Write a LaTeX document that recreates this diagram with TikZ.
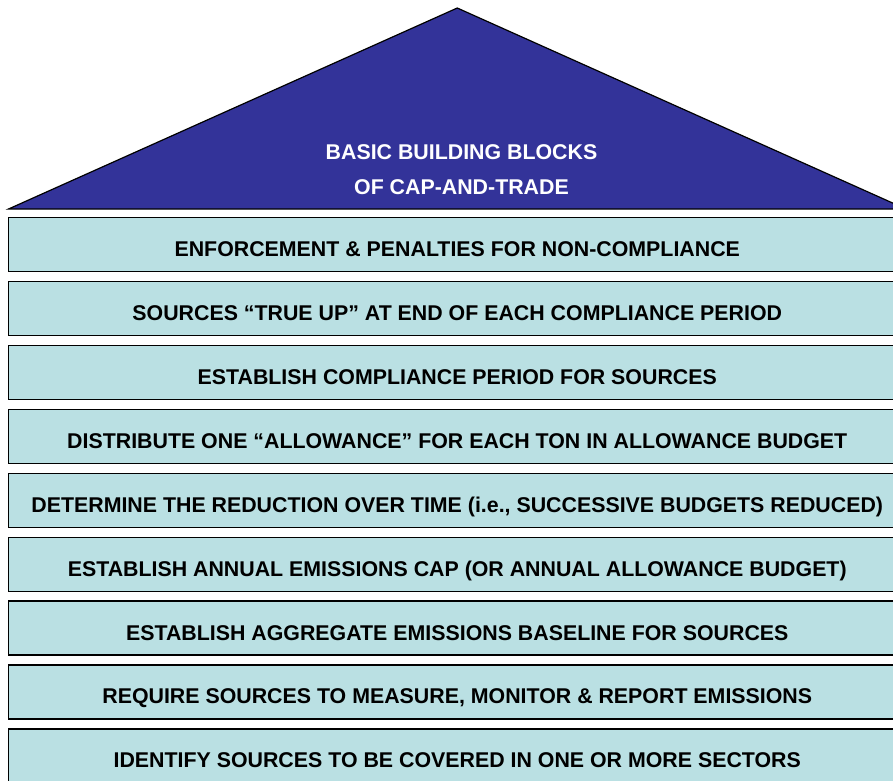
\documentclass[tikz,border=0pt]{standalone}
\usepackage{fontspec}
\setmainfont{Liberation Sans}
\definecolor{roofblue}{RGB}{51,51,153}
\definecolor{blockfill}{RGB}{186,224,227}
\begin{document}
\begin{tikzpicture}[x=1pt,y=-1pt,
  block/.style={draw=black, line width=1.3pt, fill=blockfill,
    minimum width=897.5pt, minimum height=54pt, inner sep=0pt,
    text height=24pt, text depth=0pt,
    font=\fontsize{21.35}{24}\selectfont\bfseries, anchor=north},
  rooftext/.style={text=white, align=center, inner sep=0pt,
    font=\fontsize{21.35}{35}\selectfont\bfseries}]
\useasboundingbox (0,0) rectangle (893,780);

% roof of the house
\coordinate (eaveL) at (8.5,209);
\coordinate (ridge) at (457.25,8);
\coordinate (eaveR) at (906,209);
\filldraw[fill=roofblue, draw=black, line width=1.2pt, line join=miter]
  (eaveL) -- (ridge) -- (eaveR) -- cycle;
\node[rooftext] (roof) at (461.5,169.5) {BASIC BUILDING BLOCKS\\OF CAP-AND-TRADE};

% stacked building blocks, top to bottom
\foreach \i/\txt in {
  1/{ENFORCEMENT \& PENALTIES FOR NON-COMPLIANCE},
  2/{SOURCES “TRUE UP” AT END OF EACH COMPLIANCE PERIOD},
  3/{ESTABLISH COMPLIANCE PERIOD FOR SOURCES},
  4/{DISTRIBUTE ONE “ALLOWANCE” FOR EACH TON IN ALLOWANCE BUDGET},
  5/{DETERMINE THE REDUCTION OVER TIME (i.e., SUCCESSIVE BUDGETS REDUCED)},
  6/{ESTABLISH ANNUAL EMISSIONS CAP (OR ANNUAL ALLOWANCE BUDGET)},
  7/{ESTABLISH AGGREGATE EMISSIONS BASELINE FOR SOURCES},
  8/{REQUIRE SOURCES TO MEASURE, MONITOR \& REPORT EMISSIONS},
  9/{IDENTIFY SOURCES TO BE COVERED IN ONE OR MORE SECTORS}}
  \node[block] (b\i) at (457.25, {217+63.9*(\i-1)}) {\txt};
\end{tikzpicture}
\end{document}
